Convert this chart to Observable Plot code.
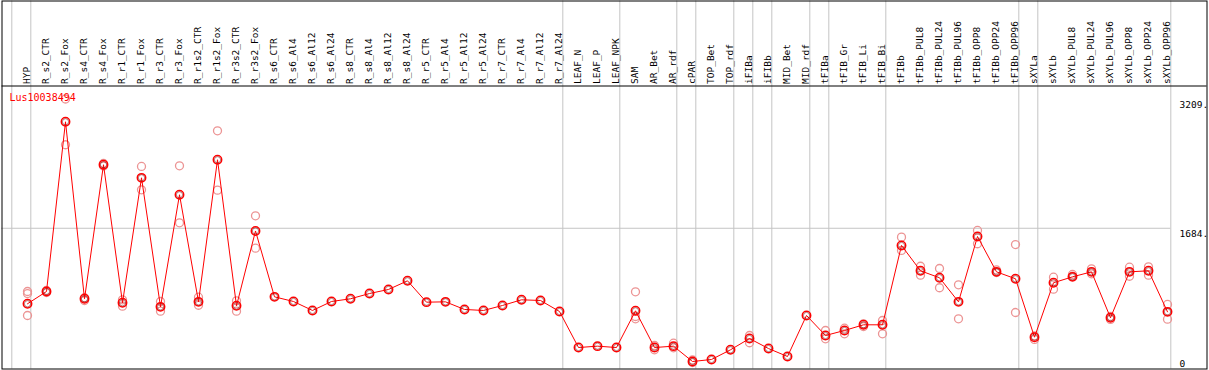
<!DOCTYPE html>
<html>
<head>
<meta charset="utf-8">
<script src="https://cdn.jsdelivr.net/npm/d3@7"></script>
<script src="https://cdn.jsdelivr.net/npm/@observablehq/plot@0.6"></script>
<style>
  html, body { margin: 0; padding: 0; background: #fff; }
  #chart svg { display: block; }
</style>
</head>
<body>
<div id="chart"></div>
<script>
const geneName = "Lus10038494";

const samples = [
  "HYP",
  "R_s2_CTR","R_s2_Fox","R_s4_CTR","R_s4_Fox","R_r1_CTR","R_r1_Fox","R_r3_CTR","R_r3_Fox",
  "R_r1s2_CTR","R_r1s2_Fox","R_r3s2_CTR","R_r3s2_Fox",
  "R_s6_CTR","R_s6_Al4","R_s6_Al12","R_s6_Al24","R_s8_CTR","R_s8_Al4","R_s8_Al12","R_s8_Al24",
  "R_r5_CTR","R_r5_Al4","R_r5_Al12","R_r5_Al24","R_r7_CTR","R_r7_Al4","R_r7_Al12","R_r7_Al24",
  "LEAF_N","LEAF_P","LEAF_NPK",
  "SAM","AR_Bet","AR_rdf",
  "cPAR",
  "TOP_Bet","TOP_rdf",
  "iFIBa","iFIBb",
  "MID_Bet","MID_rdf",
  "tFIBa",
  "tFIB_Gr","tFIB_Li","tFIB_Bi",
  "tFIBb","tFIBb_PUL8","tFIBb_PUL24","tFIBb_PUL96","tFIBb_OPP8","tFIBb_OPP24","tFIBb_OPP96",
  "sXYLa",
  "sXYLb","sXYLb_PUL8","sXYLb_PUL24","sXYLb_PUL96","sXYLb_OPP8","sXYLb_OPP24","sXYLb_OPP96"
];

const means = [
  793,
  938, 2940, 852, 2433, 805, 2279, 757, 2079,
  816, 2492, 769, 1652,
  875, 820, 714, 820, 852, 914, 962, 1064,
  812, 816, 726, 714, 773, 840, 832, 702,
  277, 293, 277,
  710, 277, 293,
  112,
  136, 250,
  383, 265,
  171, 655,
  419,
  478, 545, 545,
  1481, 1182, 1100, 816, 1587, 1170, 1088,
  399,
  1041, 1111, 1170, 628, 1170, 1182, 698
];

const repA = [
  938,
  950, 3209, 864, 2448, 840, 2413, 820, 2421,
  871, 2834, 828, 1831,
  null, null, null, null, null, null, null, null,
  null, null, null, null, null, null, null, null,
  null, null, null,
  934, 301, 328,
  130,
  null, null,
  419, null,
  null, null,
  478,
  505, 557, 596,
  1579, 1236, 1209, 1017, 1658, 1192, 1492,
  413,
  1107, 1139, 1206, 643, 1225, 1229, 785
];

const repB = [
  914,
  926, 2669, 832, 2419, 765, 2138, 706, 1748,
  776, 2133, 706, 1449,
  null, null, null, null, null, null, null, null,
  null, null, null, null, null, null, null, null,
  null, null, null,
  616, 250, 274,
  100,
  null, null,
  333, null,
  null, null,
  380,
  439, 525, 439,
  1422, 1130, 982, 616, 1501, 1162, 690,
  372,
  965, 1118, 1147, 608, 1118, 1130, 611
];

const repC = [
  655,
  null, null, null, null, null, null, null, null,
  null, null, null, null,
  null, null, null, null, null, null, null, null,
  null, null, null, null, null, null, null, null,
  null, null, null,
  643, null, null,
  null,
  null, null,
  null, null,
  null, null,
  null,
  null, null, null,
  null, null, null, null, null, null, null,
  null,
  null, null, null, null, null, null, null
];

const groupEnds = ["HYP","R_r7_Al24","LEAF_NPK","AR_rdf","cPAR","TOP_rdf","iFIBa","iFIBb",
                   "MID_rdf","tFIBa","tFIB_Bi","tFIBb_OPP96","sXYLa","sXYLb_OPP96"];
const gridValues = [1684];
const axisTicks = [3209, 1684, 0];

// table built from the arrays
const meanRows = samples.map((s, i) => ({i, sample: s, v: means[i]}));
const repRows = [];
samples.forEach((s, i) => {
  [repA[i], repB[i], repC[i]].forEach(v => { if (v != null) repRows.push({i, sample: s, v}); });
});

const W = 1209, H = 370;
const xDomain = [-27 / 19, (W - 27) / 19];
const yScale = {domain: [0, 3209], range: [370.5, 98.5]};
const headerValue = Plot.scale({y: yScale}).invert(85.5);
const last = samples.length - 1;

const grey = "#c4c4c4";

const chart = Plot.plot({
  width: W,
  height: H,
  marginTop: 0.5,
  marginLeft: 1.5,
  marginRight: 2.5,
  marginBottom: 1.5,
  x: {type: "linear", domain: xDomain, range: [0, W], axis: null},
  y: {...yScale, axis: null},
  style: {fontFamily: "'DejaVu Sans Mono', monospace", fontSize: "9.5px", background: "#fff", color: "#000"},
  marks: [
    // group separators
    Plot.ruleX(groupEnds, {x: d => samples.indexOf(d) + 0.175, stroke: grey, strokeWidth: 1}),
    Plot.ruleX([samples[0]], {x: d => samples.indexOf(d) - 0.826, stroke: grey, strokeWidth: 1}),
    // horizontal grid
    Plot.ruleY(gridValues, {x1: xDomain[0] + 0.06, x2: last + 0.175, stroke: grey, strokeWidth: 1}),
    // header separator + frame
    Plot.ruleY([headerValue], {stroke: "#000", strokeWidth: 1}),
    Plot.frame({stroke: "#000", strokeWidth: 1}),
    // column labels
    Plot.text(samples, {
      x: (d, i) => i, text: d => d, frameAnchor: "top", dy: 83, dx: -1,
      rotate: -90, textAnchor: "start", lineAnchor: "middle", fill: "#000"
    }),
    // right axis labels
    Plot.text(axisTicks.filter(d => d > 0), {
      x: () => last, y: d => d, dx: 12, dy: 2, text: d => d + ".",
      textAnchor: "start", lineAnchor: "top", fill: "#000"
    }),
    Plot.text(axisTicks.filter(d => d === 0), {
      x: () => last, y: d => d, dx: 12, dy: -4, text: d => String(d),
      textAnchor: "start", lineAnchor: "bottom", fill: "#000"
    }),
    // replicates
    Plot.dot(repRows, {x: "i", y: "v", r: 4, stroke: "#ec9494", strokeWidth: 1.3, fill: "none"}),
    // mean line
    Plot.line(meanRows, {x: "i", y: "v", stroke: "#ff0000", strokeWidth: 1}),
    Plot.dot(meanRows, {x: "i", y: "v", r: 4.2, stroke: "#ff0000", strokeWidth: 1.5, fill: "none"}),
    Plot.dot(meanRows, {x: "i", y: "v", r: 3.1, stroke: "#6a0000", strokeWidth: 0.6, fill: "none", strokeOpacity: 0.8}),
    // gene name
    Plot.text([geneName], {
      frameAnchor: "top-left", dx: 7.5, dy: 97, text: d => d, fill: "#ff0000",
      fontSize: 10, textAnchor: "start", lineAnchor: "middle"
    })
  ]
});

document.getElementById("chart").appendChild(chart);
</script>
</body>
</html>
